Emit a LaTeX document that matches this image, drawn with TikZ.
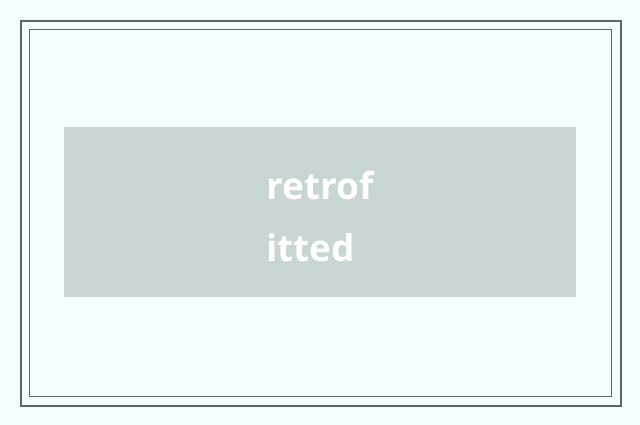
\documentclass[tikz,border=0pt]{standalone}
\usepackage{fontspec}
\setmainfont{Open Sans}
\definecolor{bgc}{HTML}{F3FFFF}
\definecolor{framec}{HTML}{566868}
\definecolor{boxc}{HTML}{C7D5D5}
\begin{document}
\begin{tikzpicture}[x=1pt,y=-1pt,
  lbl/.style={inner sep=0pt,anchor=base west,text=white,font=\fontsize{37}{40}\selectfont\bfseries}]
\fill[bgc] (0,0) rectangle (640,425);
\useasboundingbox (0,0) rectangle (640,425);
\draw[framec,line width=2pt] (21,21) rectangle (621,406);
\draw[framec,line width=1pt] (29.5,29.5) rectangle (611.5,396.5);
\fill[boxc] (64,127) rectangle (576,297);
\node[lbl] (l1) at (266,199) {retrof};
\node[lbl] (l2) at (266,261) {itted};
\end{tikzpicture}
\end{document}
